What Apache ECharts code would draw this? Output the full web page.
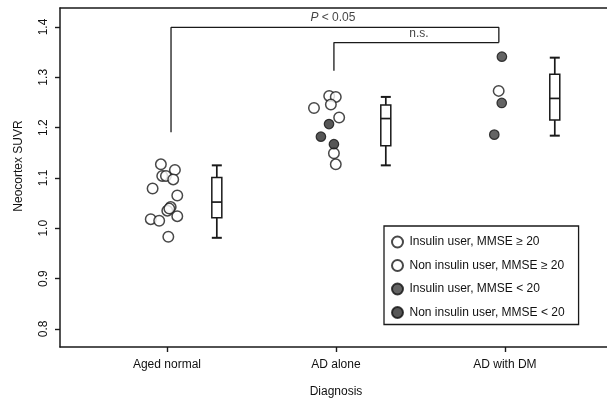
<!DOCTYPE html>
<html>
<head>
<meta charset="utf-8">
<script src="https://cdn.jsdelivr.net/npm/echarts@6/dist/echarts.min.js"></script>
<style>
html,body{margin:0;padding:0;background:#fff;}
#chart{width:607px;height:402px;}
</style>
</head>
<body>
<div id="chart"></div>
<script>
// ---- data ----
const categories = ['Aged normal', 'AD alone', 'AD with DM'];
const xTicks = [1, 2, 3];
const yTicks = [0.8, 0.9, 1.0, 1.1, 1.2, 1.3, 1.4];

// [x (jittered category position), Neocortex SUVR]
const insulinHigh = [[2.963, 1.273]];
const nonInsulinHigh = [
  [0.964, 1.127], [1.047, 1.116], [0.972, 1.104], [0.994, 1.104], [1.037, 1.097],
  [0.915, 1.079], [1.061, 1.065], [1.022, 1.042], [1.002, 1.035], [1.014, 1.039],
  [1.061, 1.024], [0.904, 1.018], [0.954, 1.015], [1.008, 0.983],
  [1.960, 1.263], [1.999, 1.261], [1.970, 1.246], [1.870, 1.239], [2.019, 1.220],
  [1.988, 1.149], [1.999, 1.127]
];
const insulinLow = [[2.982, 1.341], [2.981, 1.249], [2.937, 1.186]];
const nonInsulinLow = [[1.959, 1.207], [1.911, 1.182], [1.988, 1.167]];

// [min, q1, median, q3, max]
const boxStats = [
  [0.981, 1.021, 1.052, 1.101, 1.125],
  [1.125, 1.164, 1.218, 1.245, 1.261],
  [1.184, 1.215, 1.258, 1.306, 1.339]
];

const bracketP = [[1.024, 1.191], [1.024, 1.399], [2.964, 1.399], [2.964, 1.369]];
const bracketNS = [[1.988, 1.313], [1.988, 1.369], [2.964, 1.369]];
const annotationPos = [[1.982, 1.418], [2.491, 1.387]];
const annotationText = ['{i|P} < 0.05', 'n.s.'];

const seriesNames = [
  'Insulin user, MMSE \u2265 20',
  'Non insulin user, MMSE \u2265 20',
  'Insulin user, MMSE < 20',
  'Non insulin user, MMSE < 20'
];

// ---- chart ----
const FONT = "'Liberation Sans', Arial, sans-serif";
const INK = '#1a1a1a';
const TXT = '#111';
const chart = echarts.init(document.getElementById('chart'), null, {renderer: 'canvas'});

const openStyle = {color: '#fff', borderColor: INK, borderWidth: 1.5};
const BOX_OFFSET = 0.295;
const X_MIN = 0.367, X_MAX = 3.604;

chart.setOption({
  animation: false,
  backgroundColor: '#fff',
  textStyle: {fontFamily: FONT},
  grid: {left: 60, top: 8, right: 0, bottom: 55, show: false},
  xAxis: [{
    type: 'value', min: X_MIN, max: X_MAX, position: 'bottom',
    axisLine: {show: true, onZero: false, lineStyle: {color: INK, width: 1.5}},
    splitLine: {show: false},
    axisTick: {show: true, length: 5, customValues: xTicks, lineStyle: {color: INK, width: 1.4}},
    axisLabel: {
      customValues: xTicks, margin: 12, color: TXT, fontSize: 12, fontFamily: FONT,
      formatter: v => categories[Math.round(v) - 1] || ''
    }
  }, {
    type: 'value', min: X_MIN, max: X_MAX, position: 'top',
    axisLine: {show: true, onZero: false, lineStyle: {color: INK, width: 1.5}},
    splitLine: {show: false}, axisTick: {show: false}, axisLabel: {show: false}
  }],
  yAxis: {
    type: 'value', min: 0.764, max: 1.4377,
    axisLine: {show: true, onZero: false, lineStyle: {color: INK, width: 1.5}},
    splitLine: {show: false},
    axisTick: {show: true, length: 5, customValues: yTicks, lineStyle: {color: INK, width: 1.4}},
    axisLabel: {
      customValues: yTicks, rotate: 90, margin: 10, color: TXT, fontSize: 12, fontFamily: FONT,
      formatter: v => v.toFixed(1)
    }
  },
  graphic: [
    {type: 'text', x: 19, y: 166, rotation: Math.PI / 2,
     style: {text: 'Neocortex SUVR', fontSize: 12, fontFamily: FONT, fill: TXT, align: 'center', verticalAlign: 'middle'}},
    {type: 'text', x: 336, y: 392,
     style: {text: 'Diagnosis', fontSize: 12, fontFamily: FONT, fill: TXT, align: 'center', verticalAlign: 'middle'}}
  ],
  legend: {
    data: seriesNames,
    orient: 'vertical', left: 384, top: 226,
    padding: [9, 14, 5, 7],
    itemWidth: 14, itemHeight: 11, itemGap: 9.5,
    icon: 'circle',
    borderColor: INK, borderWidth: 1.3, backgroundColor: '#fff',
    textStyle: {fontSize: 12, lineHeight: 14, color: TXT, fontFamily: FONT},
    selectedMode: false
  },
  series: [
    {type: 'line', data: bracketP, showSymbol: false, symbol: 'none', silent: true,
     lineStyle: {color: INK, width: 1.3}, z: 1},
    {type: 'line', data: bracketNS, showSymbol: false, symbol: 'none', silent: true,
     lineStyle: {color: INK, width: 1.3}, z: 1},
    {type: 'scatter', data: annotationPos, symbolSize: 1, silent: true,
     itemStyle: {color: 'rgba(0,0,0,0)'},
     label: {show: true, position: 'inside', fontSize: 12, fontFamily: FONT, color: TXT,
       formatter: p => annotationText[p.dataIndex],
       rich: {i: {fontStyle: 'italic', fontSize: 12, fontFamily: FONT, color: TXT}}}},
    {type: 'custom', silent: true, z: 2,
     data: boxStats.map((s, i) => [xTicks[i] + BOX_OFFSET].concat(s)),
     encode: {x: 0, y: [1, 2, 3, 4, 5]},
     renderItem: function (params, api) {
       const x = api.value(0);
       const c = v => api.coord([x, v]);
       const pMin = c(api.value(1)), pQ1 = c(api.value(2)), pMd = c(api.value(3)),
             pQ3 = c(api.value(4)), pMax = c(api.value(5));
       const cx = pMin[0], hw = 5;
       const st = {stroke: INK, lineWidth: 1.7, fill: null};
       return {type: 'group', children: [
         {type: 'line', shape: {x1: cx, y1: pMin[1], x2: cx, y2: pQ1[1]}, style: st},
         {type: 'line', shape: {x1: cx, y1: pQ3[1], x2: cx, y2: pMax[1]}, style: st},
         {type: 'line', shape: {x1: cx - hw, y1: pMin[1], x2: cx + hw, y2: pMin[1]}, style: {stroke: INK, lineWidth: 2}},
         {type: 'line', shape: {x1: cx - hw, y1: pMax[1], x2: cx + hw, y2: pMax[1]}, style: {stroke: INK, lineWidth: 2}},
         {type: 'rect', shape: {x: cx - hw, y: pQ3[1], width: hw * 2, height: pQ1[1] - pQ3[1]}, style: {stroke: INK, lineWidth: 1.5, fill: '#fff'}},
         {type: 'line', shape: {x1: cx - hw, y1: pMd[1], x2: cx + hw, y2: pMd[1]}, style: {stroke: INK, lineWidth: 1.7}}
       ]};
     }},
    {name: seriesNames[0], type: 'scatter', data: insulinHigh, symbol: 'circle', symbolSize: 10.5, itemStyle: openStyle, z: 3},
    {name: seriesNames[1], type: 'scatter', data: nonInsulinHigh, symbol: 'circle', symbolSize: 10.5, itemStyle: openStyle, z: 3},
    {name: seriesNames[2], type: 'scatter', data: insulinLow, symbol: 'circle', symbolSize: 9.5,
     itemStyle: {color: '#3d3d3d', borderColor: '#111', borderWidth: 1.2}, z: 4},
    {name: seriesNames[3], type: 'scatter', data: nonInsulinLow, symbol: 'circle', symbolSize: 9.5,
     itemStyle: {color: '#2c2c2c', borderColor: '#111', borderWidth: 1.2}, z: 4}
  ]
});
</script>
</body>
</html>
